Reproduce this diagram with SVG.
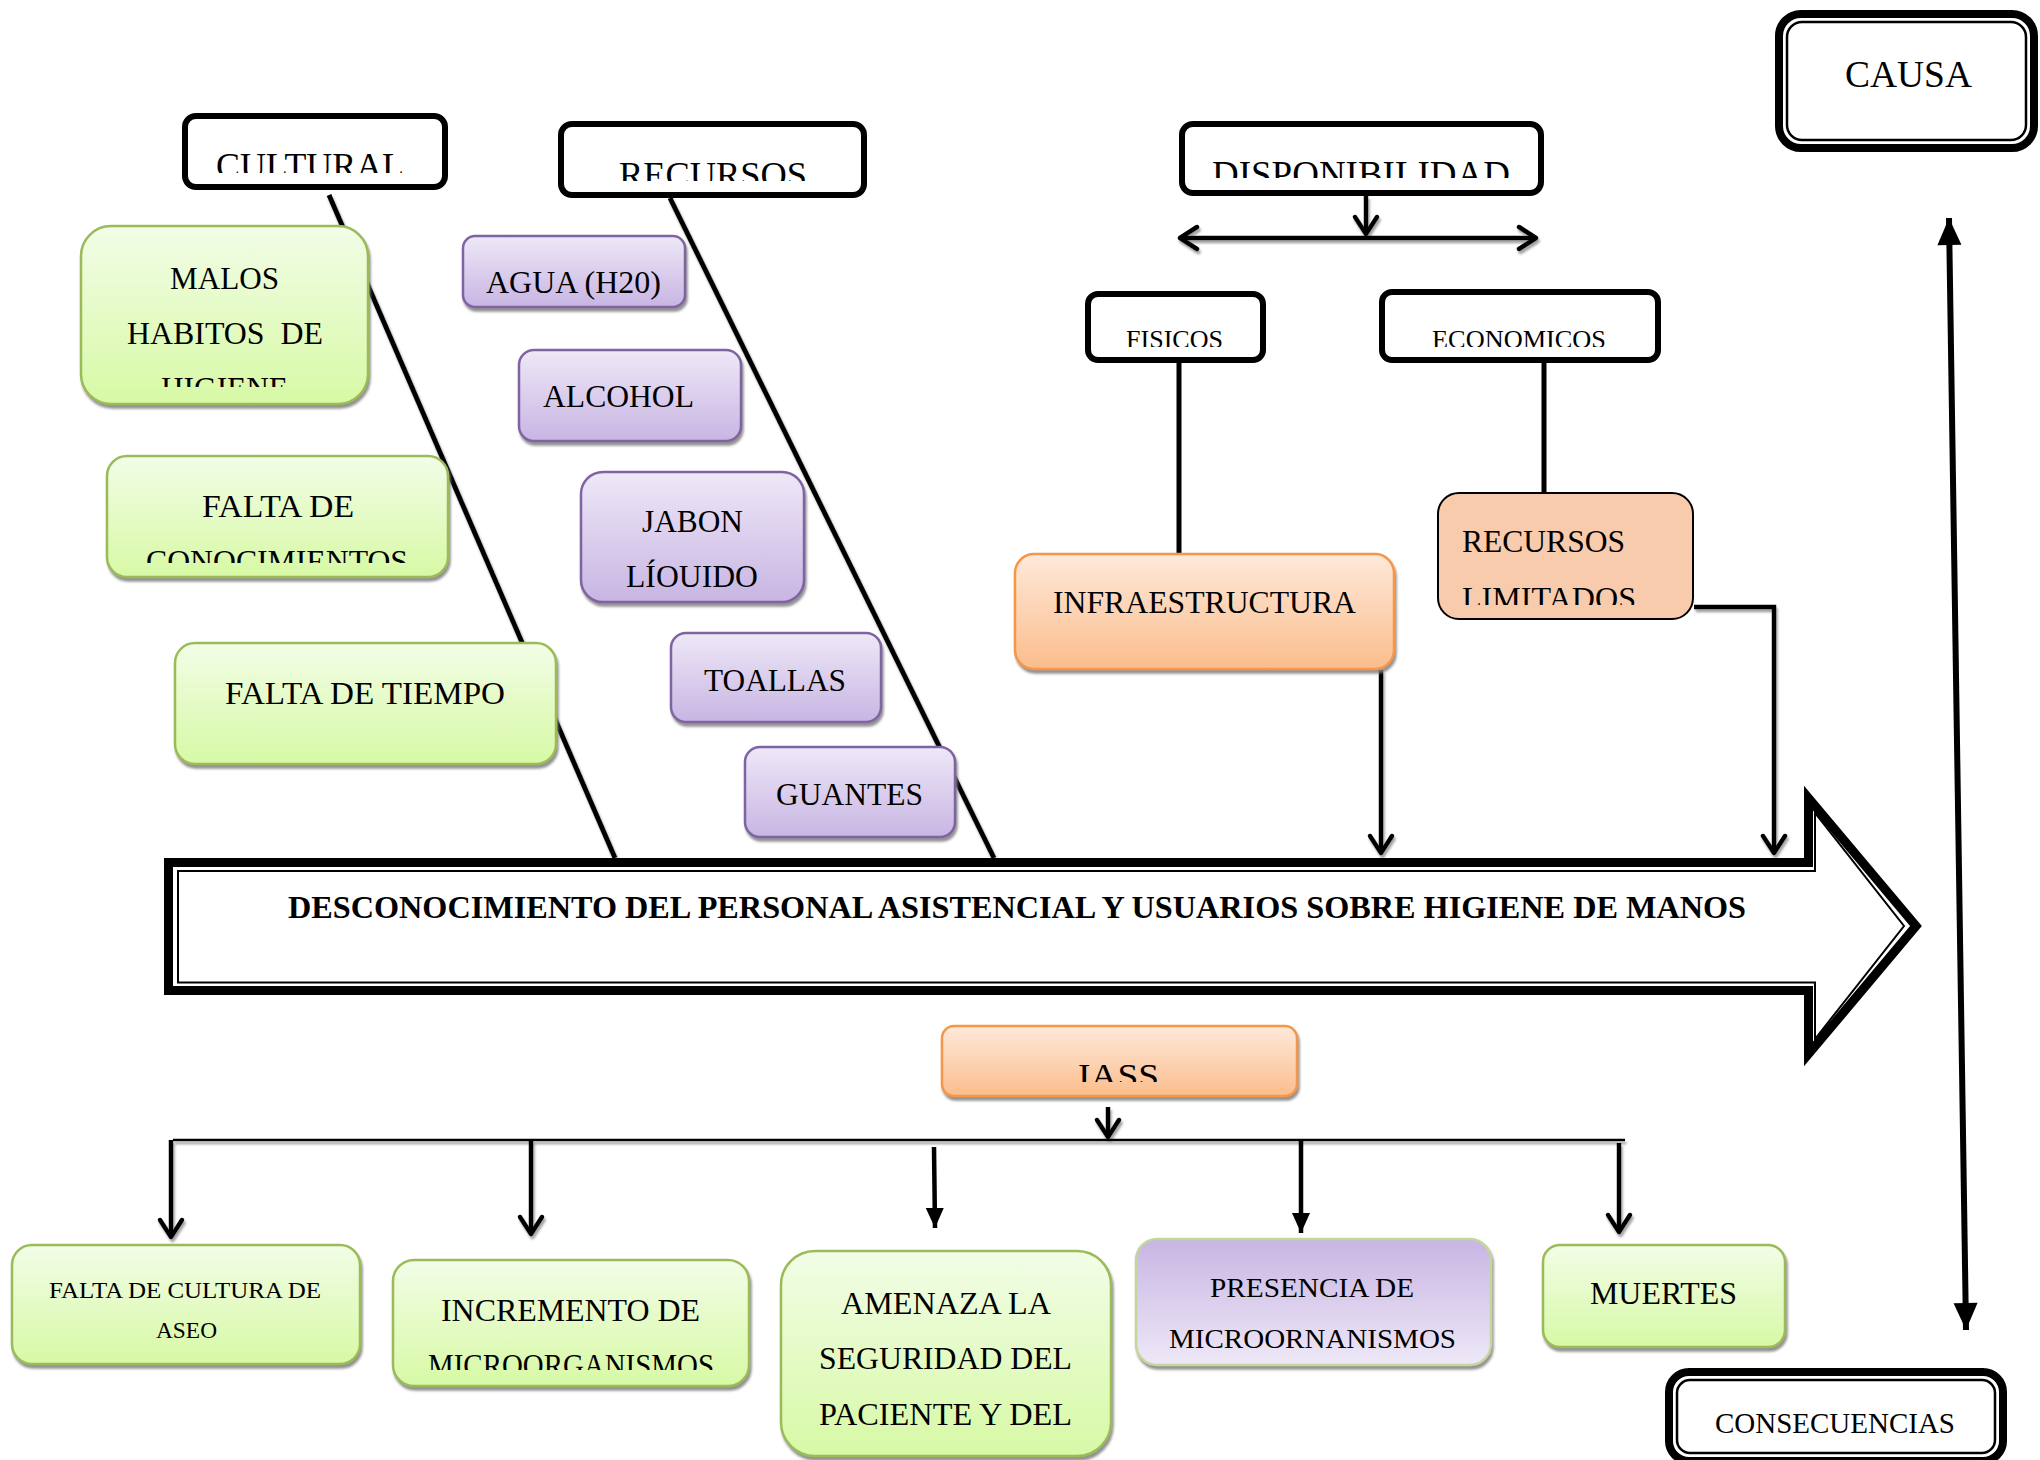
<svg xmlns="http://www.w3.org/2000/svg" width="2040" height="1460" viewBox="0 0 2040 1460">
<defs>
<linearGradient id="gGreen" x1="0" y1="0" x2="0" y2="1"><stop offset="0" stop-color="#f2fde7"/><stop offset="1" stop-color="#d7f9a5"/></linearGradient>
<linearGradient id="gPurple" x1="0" y1="0" x2="0" y2="1"><stop offset="0" stop-color="#eee8f7"/><stop offset="1" stop-color="#c8b5e3"/></linearGradient>
<linearGradient id="gPurpleRev" x1="0" y1="0" x2="0" y2="1"><stop offset="0" stop-color="#c8b5e3"/><stop offset="1" stop-color="#eee8f7"/></linearGradient>
<linearGradient id="gOrange" x1="0" y1="0" x2="0" y2="1"><stop offset="0" stop-color="#fee9da"/><stop offset="1" stop-color="#fbbd8c"/></linearGradient>
<filter id="sh" x="-10%" y="-10%" width="120%" height="130%"><feDropShadow dx="1.5" dy="3.5" stdDeviation="1" flood-color="#7f7f7f" flood-opacity="0.85"/></filter>
<filter id="lsh" filterUnits="userSpaceOnUse" x="0" y="0" width="2040" height="1460"><feDropShadow dx="1.5" dy="3" stdDeviation="1" flood-color="#8a8a8a" flood-opacity="0.8"/></filter>
<marker id="chev" markerUnits="userSpaceOnUse" markerWidth="40" markerHeight="40" refX="0" refY="0" orient="auto-start-reverse" overflow="visible"><path d="M-17,-11 L0,0 L-17,11" fill="none" stroke="#000" stroke-width="4.5" stroke-linejoin="round" stroke-linecap="round"/></marker>
<marker id="tri" markerUnits="userSpaceOnUse" markerWidth="40" markerHeight="40" refX="0" refY="0" orient="auto-start-reverse" overflow="visible"><path d="M-27,-12 L0,0 L-27,12 Z" fill="#000"/></marker>
<marker id="tri2" markerUnits="userSpaceOnUse" markerWidth="40" markerHeight="40" refX="0" refY="0" orient="auto" overflow="visible"><path d="M-20,-9 L0,0 L-20,9 Z" fill="#000"/></marker>
<clipPath id="cCult" clipPathUnits="userSpaceOnUse"><rect x="0" y="0" width="2040" height="173"/></clipPath>
<clipPath id="cRec" clipPathUnits="userSpaceOnUse"><rect x="0" y="0" width="2040" height="181"/></clipPath>
<clipPath id="cDisp" clipPathUnits="userSpaceOnUse"><rect x="0" y="0" width="2040" height="178"/></clipPath>
<clipPath id="cFis" clipPathUnits="userSpaceOnUse"><rect x="0" y="0" width="2040" height="347"/></clipPath>
<clipPath id="cHig" clipPathUnits="userSpaceOnUse"><rect x="0" y="0" width="2040" height="387"/></clipPath>
<clipPath id="cCon" clipPathUnits="userSpaceOnUse"><rect x="0" y="0" width="2040" height="563"/></clipPath>
<clipPath id="cLim" clipPathUnits="userSpaceOnUse"><rect x="0" y="0" width="2040" height="605"/></clipPath>
<clipPath id="cIass" clipPathUnits="userSpaceOnUse"><rect x="0" y="0" width="2040" height="1082"/></clipPath>
<clipPath id="cMic" clipPathUnits="userSpaceOnUse"><rect x="0" y="0" width="2040" height="1370"/></clipPath>
</defs>
<style>
.t{font-family:"Liberation Serif","Times New Roman",serif;fill:#000;text-anchor:middle}
.hdr{fill:#fff;stroke:#000;stroke-width:6}
.green{fill:url(#gGreen);stroke:#9bbb59;stroke-width:2.5;filter:url(#sh)}
.purple{fill:url(#gPurple);stroke:#8064a2;stroke-width:2.5;filter:url(#sh)}
.orange{fill:url(#gOrange);stroke:#f79646;stroke-width:2.5;filter:url(#sh)}
.ln{stroke:#000;fill:none}
.ar{stroke:#000;fill:none;stroke-width:4.5;marker-end:url(#chev);filter:url(#lsh)}
</style>
<rect width="2040" height="1460" fill="#fff"/>

<g id="connectors">
  <line class="ln" x1="329" y1="195" x2="615" y2="858" stroke-width="5" filter="url(#lsh)"/>
  <line class="ln" x1="670" y1="198" x2="994" y2="858" stroke-width="5" filter="url(#lsh)"/>
  <line class="ar" x1="1366" y1="196" x2="1366" y2="234"/>
  <line class="ar" x1="1180" y1="238" x2="1536" y2="238" marker-start="url(#chev)"/>
  <line class="ln" x1="1179" y1="363" x2="1179" y2="553" stroke-width="5"/>
  <line class="ln" x1="1544" y1="363" x2="1544" y2="492" stroke-width="5"/>
  <line class="ar" x1="1381" y1="670" x2="1381" y2="853"/>
  <path class="ar" d="M1694,607 H1774 V853"/>
  <line class="ln" x1="1949" y1="218" x2="1966" y2="1330" stroke-width="6" marker-start="url(#tri)" marker-end="url(#tri)"/>
  <line class="ar" x1="1108" y1="1107" x2="1108" y2="1137"/>
  <line class="ln" x1="173" y1="1140" x2="1625" y2="1140" stroke-width="2.5" filter="url(#lsh)"/>
  <line class="ar" x1="171" y1="1140" x2="171" y2="1237"/>
  <line class="ar" x1="531" y1="1140" x2="531" y2="1234"/>
  <line class="ln" x1="934" y1="1147" x2="935" y2="1228" stroke-width="4.5" marker-end="url(#tri2)"/>
  <line class="ln" x1="1301" y1="1140" x2="1301" y2="1233" stroke-width="4.5" marker-end="url(#tri2)"/>
  <line class="ar" x1="1619" y1="1143" x2="1619" y2="1232"/>
</g>

<g id="problem-arrow">
  <polygon points="168.5,862.5 1808.5,862.5 1808.5,798 1916,926 1808.5,1054 1808.5,990.5 168.5,990.5" fill="#fff" stroke="#000" stroke-width="9" stroke-linejoin="miter"/>
  <polygon points="178,871 1815,871 1815,813 1904,926 1815,1039 1815,982.5 178,982.5" fill="none" stroke="#000" stroke-width="2"/>
  <text class="t" x="1017" y="918" font-size="31" font-weight="bold" textLength="1458" lengthAdjust="spacingAndGlyphs">DESCONOCIMIENTO DEL PERSONAL ASISTENCIAL Y USUARIOS SOBRE HIGIENE DE MANOS</text>
</g>

<g id="cultural">
  <rect class="hdr" x="185" y="116" width="260" height="71" rx="11"/>
  <text class="t" x="310" y="178" font-size="35" textLength="188" lengthAdjust="spacingAndGlyphs" clip-path="url(#cCult)">CULTURAL</text>
</g>
<g id="malos-habitos">
  <rect class="green" x="81" y="226" width="287" height="178" rx="30"/>
  <g clip-path="url(#cHig)">
  <text class="t" x="224.5" y="289" font-size="31" textLength="109" lengthAdjust="spacingAndGlyphs">MALOS</text>
  <text class="t" x="225" y="344" font-size="31" textLength="196" lengthAdjust="spacingAndGlyphs" xml:space="preserve">HABITOS  DE</text>
  <text class="t" x="224.5" y="399" font-size="31" textLength="127" lengthAdjust="spacingAndGlyphs">HIGIENE</text>
  </g>
</g>
<g id="falta-conocimientos">
  <rect class="green" x="107" y="456" width="341" height="121" rx="20"/>
  <g clip-path="url(#cCon)">
  <text class="t" x="278" y="517" font-size="31" textLength="152" lengthAdjust="spacingAndGlyphs">FALTA DE</text>
  <text class="t" x="277" y="572" font-size="31" textLength="262" lengthAdjust="spacingAndGlyphs">CONOCIMIENTOS</text>
  </g>
</g>
<g id="falta-tiempo">
  <rect class="green" x="175" y="643" width="381" height="121" rx="20"/>
  <text class="t" x="365" y="704" font-size="31" textLength="280" lengthAdjust="spacingAndGlyphs">FALTA DE TIEMPO</text>
</g>

<g id="recursos">
  <rect class="hdr" x="561" y="124" width="303" height="71" rx="11"/>
  <text class="t" x="713" y="187" font-size="36" textLength="188" lengthAdjust="spacingAndGlyphs" clip-path="url(#cRec)">RECURSOS</text>
</g>
<g id="agua">
  <rect class="purple" x="463" y="236" width="222" height="71" rx="12"/>
  <text class="t" x="573.5" y="293" font-size="31" textLength="175" lengthAdjust="spacingAndGlyphs">AGUA (H20)</text>
</g>
<g id="alcohol">
  <rect class="purple" x="519" y="350" width="222" height="91" rx="15"/>
  <text class="t" x="618.5" y="407" font-size="31" textLength="151" lengthAdjust="spacingAndGlyphs">ALCOHOL</text>
</g>
<g id="jabon">
  <rect class="purple" x="581" y="472" width="223" height="130" rx="22"/>
  <text class="t" x="692.5" y="532" font-size="31" textLength="101" lengthAdjust="spacingAndGlyphs">JABON</text>
  <text class="t" x="692" y="587" font-size="31" textLength="132" lengthAdjust="spacingAndGlyphs">LÍOUIDO</text>
</g>
<g id="toallas">
  <rect class="purple" x="671" y="633" width="210" height="89" rx="15"/>
  <text class="t" x="775" y="691" font-size="31" textLength="142" lengthAdjust="spacingAndGlyphs">TOALLAS</text>
</g>
<g id="guantes">
  <rect class="purple" x="745" y="747" width="210" height="90" rx="15"/>
  <text class="t" x="849.5" y="805" font-size="31" textLength="147" lengthAdjust="spacingAndGlyphs">GUANTES</text>
</g>

<g id="disponibilidad">
  <rect class="hdr" x="1182" y="124" width="359" height="69" rx="11"/>
  <text class="t" x="1361" y="187" font-size="37" textLength="298" lengthAdjust="spacingAndGlyphs" clip-path="url(#cDisp)">DISPONIBILIDAD</text>
</g>
<g id="fisicos">
  <rect class="hdr" x="1088" y="294" width="175" height="66" rx="10"/>
  <text class="t" x="1174.5" y="348" font-size="26" textLength="97" lengthAdjust="spacingAndGlyphs" clip-path="url(#cFis)">FISICOS</text>
</g>
<g id="economicos">
  <rect class="hdr" x="1382" y="292" width="276" height="68" rx="10"/>
  <text class="t" x="1519" y="348" font-size="26" textLength="174" lengthAdjust="spacingAndGlyphs" clip-path="url(#cFis)">ECONOMICOS</text>
</g>
<g id="infraestructura">
  <rect class="orange" x="1015" y="554" width="379" height="115" rx="19"/>
  <text class="t" x="1204.5" y="613" font-size="31" textLength="303" lengthAdjust="spacingAndGlyphs">INFRAESTRUCTURA</text>
</g>
<g id="recursos-limitados">
  <rect x="1438" y="493" width="255" height="126" rx="21" fill="#f8cbad" stroke="#000" stroke-width="2"/>
  <g clip-path="url(#cLim)">
  <text class="t" x="1543.5" y="552" font-size="31" textLength="163" lengthAdjust="spacingAndGlyphs">RECURSOS</text>
  <text class="t" x="1549" y="609" font-size="31" textLength="174" lengthAdjust="spacingAndGlyphs">LIMITADOS</text>
  </g>
</g>

<g id="causa">
  <rect x="1779" y="14" width="255" height="134" rx="22" fill="#fff" stroke="#000" stroke-width="8"/>
  <rect x="1787" y="22" width="239" height="118" rx="15" fill="none" stroke="#000" stroke-width="2.5"/>
  <text class="t" x="1908.5" y="87" font-size="37" textLength="127" lengthAdjust="spacingAndGlyphs">CAUSA</text>
</g>
<g id="consecuencias">
  <rect x="1669" y="1372" width="334" height="89" rx="20" fill="#fff" stroke="#000" stroke-width="8"/>
  <rect x="1677" y="1380" width="318" height="73" rx="13" fill="none" stroke="#000" stroke-width="2.5"/>
  <text class="t" x="1835" y="1433" font-size="29" textLength="240" lengthAdjust="spacingAndGlyphs">CONSECUENCIAS</text>
</g>

<g id="iass">
  <rect class="orange" x="942" y="1026" width="355" height="70" rx="12"/>
  <text class="t" x="1118.5" y="1087" font-size="34" textLength="81" lengthAdjust="spacingAndGlyphs" clip-path="url(#cIass)">IASS</text>
</g>
<g id="falta-cultura-aseo">
  <rect class="green" x="12" y="1245" width="348" height="119" rx="20"/>
  <text class="t" x="185" y="1298" font-size="24" textLength="272" lengthAdjust="spacingAndGlyphs">FALTA DE CULTURA DE</text>
  <text class="t" x="186.5" y="1338" font-size="24" textLength="61" lengthAdjust="spacingAndGlyphs">ASEO</text>
</g>
<g id="incremento">
  <rect class="green" x="393" y="1260" width="356" height="126" rx="21"/>
  <g clip-path="url(#cMic)">
  <text class="t" x="570.5" y="1321" font-size="31" textLength="259" lengthAdjust="spacingAndGlyphs">INCREMENTO DE</text>
  <text class="t" x="571" y="1376" font-size="31" textLength="286" lengthAdjust="spacingAndGlyphs">MICROORGANISMOS</text>
  </g>
</g>
<g id="amenaza">
  <rect class="green" x="781" y="1251" width="330" height="205" rx="34"/>
  <text class="t" x="946" y="1314" font-size="31" textLength="210" lengthAdjust="spacingAndGlyphs">AMENAZA LA</text>
  <text class="t" x="945.5" y="1369" font-size="31" textLength="253" lengthAdjust="spacingAndGlyphs">SEGURIDAD DEL</text>
  <text class="t" x="945.5" y="1425" font-size="31" textLength="253" lengthAdjust="spacingAndGlyphs">PACIENTE Y DEL</text>
</g>
<g id="presencia">
  <rect x="1136" y="1239" width="355" height="126" rx="21" fill="url(#gPurpleRev)" stroke="#c3d69b" stroke-width="2.5" filter="url(#sh)"/>
  <text class="t" x="1312" y="1297" font-size="28" textLength="204" lengthAdjust="spacingAndGlyphs">PRESENCIA DE</text>
  <text class="t" x="1312.5" y="1348" font-size="28" textLength="287" lengthAdjust="spacingAndGlyphs">MICROORNANISMOS</text>
</g>
<g id="muertes">
  <rect class="green" x="1543" y="1245" width="242" height="102" rx="17"/>
  <text class="t" x="1663.5" y="1304" font-size="31" textLength="147" lengthAdjust="spacingAndGlyphs">MUERTES</text>
</g>
</svg>
